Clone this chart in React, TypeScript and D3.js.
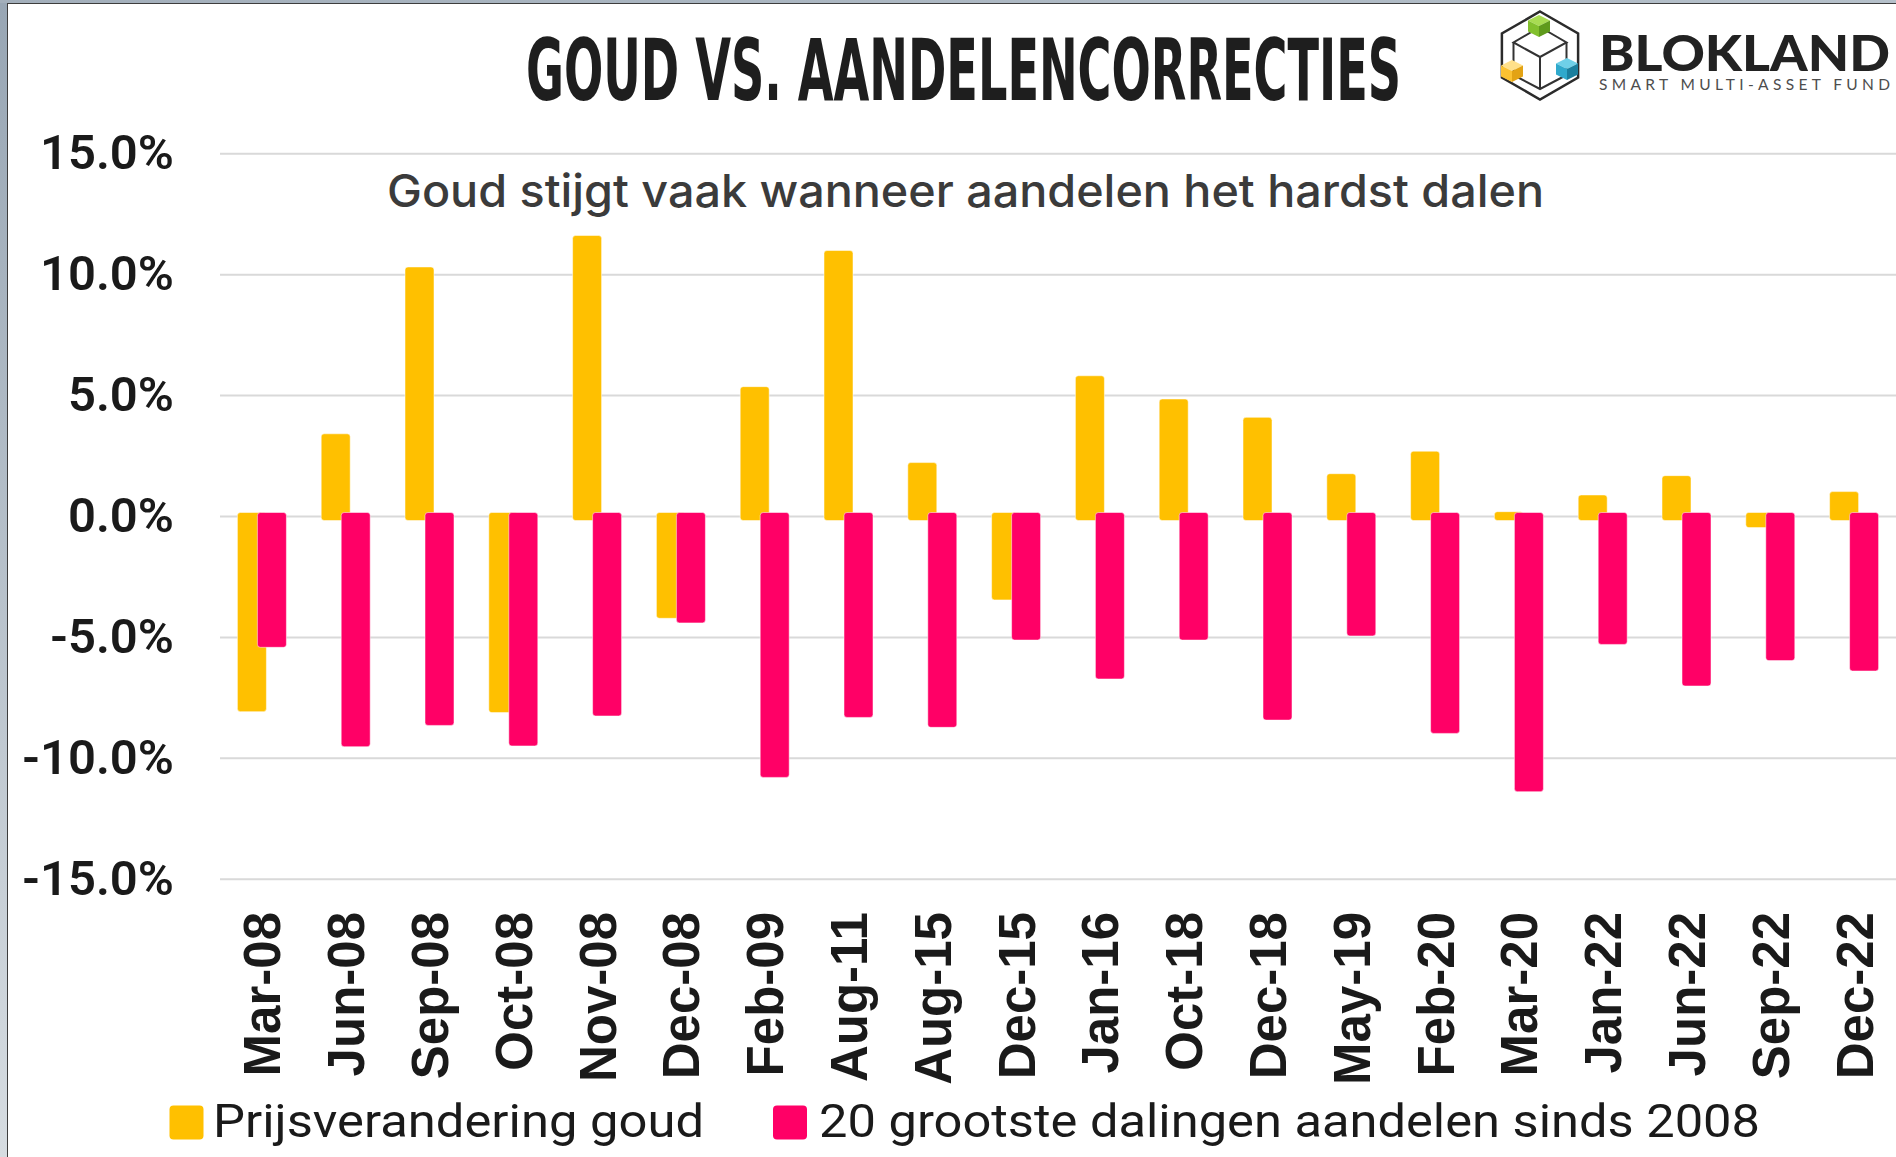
import React from "react";
import * as d3 from "d3";

const categories = ["Mar-08","Jun-08","Sep-08","Oct-08","Nov-08","Dec-08","Feb-09","Aug-11","Aug-15","Dec-15","Jan-16","Oct-18","Dec-18","May-19","Feb-20","Mar-20","Jan-22","Jun-22","Sep-22","Dec-22"];
const goldChange = [-8.07, 3.42, 10.32, -8.11, 11.62, -4.21, 5.37, 11.0, 2.23, -3.45, 5.82, 4.86, 4.1, 1.77, 2.7, 0.2, 0.89, 1.69, -0.46, 1.03];
const equityDrop = [-5.41, -9.52, -8.64, -9.49, -8.25, -4.4, -10.79, -8.31, -8.72, -5.11, -6.72, -5.11, -8.42, -4.94, -8.97, -11.38, -5.29, -7.01, -5.96, -6.39];
const yTicks = [15, 10, 5, 0, -5, -10, -15];
const seriesNames = ["Prijsverandering goud", "20 grootste dalingen aandelen sinds 2008"];
const seriesColors = ["#FFC000", "#FF0066"];
const title = "GOUD VS. AANDELENCORRECTIES";
const subtitle = "Goud stijgt vaak wanneer aandelen het hardst dalen";

const W = 1896;
const H = 1157;

function roundedRect(x: number, y0: number, y1: number, w: number, r: number) {
  const top = Math.min(y0, y1);
  const h = Math.abs(y1 - y0);
  const rr = Math.min(r, h / 2, w / 2);
  const p = d3.path();
  p.moveTo(x + rr, top);
  p.lineTo(x + w - rr, top);
  p.arcTo(x + w, top, x + w, top + rr, rr);
  p.lineTo(x + w, top + h - rr);
  p.arcTo(x + w, top + h, x + w - rr, top + h, rr);
  p.lineTo(x + rr, top + h);
  p.arcTo(x, top + h, x, top + h - rr, rr);
  p.lineTo(x, top + rr);
  p.arcTo(x, top, x + rr, top, rr);
  p.closePath();
  return p.toString();
}

function Cube({ cx, cy, w, colors }: { cx: number; cy: number; w: number; colors: string[] }) {
  const h = w;
  const T = [cx, cy - w];
  const L = [cx - w, cy - w / 2];
  const F = [cx, cy];
  const R = [cx + w, cy - w / 2];
  const pts = (a: number[][]) => a.map((p) => p.join(",")).join(" ");
  return (
    <g>
      <polygon points={pts([T, R, F, L])} fill={colors[0]} />
      <polygon points={pts([L, F, [F[0], F[1] + h], [L[0], L[1] + h]])} fill={colors[1]} />
      <polygon points={pts([F, R, [R[0], R[1] + h], [F[0], F[1] + h]])} fill={colors[2]} />
    </g>
  );
}

function Logo() {
  const cx = 1540, cy = 55.5, r = 44;
  const hex = d3.range(6).map((i) => {
    const a = (-90 + 60 * i) * Math.PI / 180;
    return [cx + r * Math.cos(a), cy + r * Math.sin(a)];
  });
  const line = d3.line();
  return (
    <g>
      <path d={line(hex as [number, number][]) + "Z"} fill="none" stroke="#2b2b2b" strokeWidth={2.5} />
      <g stroke="#333" strokeWidth={2} fill="none">
        <polygon points="1540,27 1566.5,42.5 1540,57 1513.5,42.5" />
        <line x1={1513.5} y1={42.5} x2={1513.5} y2={75} />
        <line x1={1540} y1={57} x2={1540} y2={89} />
        <line x1={1566.5} y1={42.5} x2={1566.5} y2={75} />
        <polyline points="1513.5,75 1540,89 1566.5,75" />
      </g>
      <Cube cx={1539} cy={26} w={11} colors={["#a8dc52", "#82c02d", "#5f9a1c"]} />
      <Cube cx={1512} cy={71} w={11} colors={["#ffe08a", "#fbc232", "#e3a314"]} />
      <Cube cx={1567} cy={69} w={11} colors={["#6fd0e8", "#2fa9cc", "#1a7f9e"]} />
      <text x={1599} y={70.5} fontFamily="Lato, 'Open Sans', sans-serif" fontWeight={900} fontSize={50} fill="#222" textLength={291} lengthAdjust="spacingAndGlyphs">BLOKLAND</text>
      <text x={1599} y={89.5} fontFamily="Lato, 'Open Sans', sans-serif" fontWeight={400} fontSize={15.5} fill="#4d4d4d" textLength={291} lengthAdjust="spacing">SMART MULTI-ASSET FUND</text>
    </g>
  );
}

export default function App() {
  const x = d3.scaleBand<string>().domain(categories).range([220, 1896]).padding(0);
  const y = d3.scaleLinear().domain([-15, 15]).range([879.2, 153.8]);
  const barW = 29;
  const y0 = y(0);
  const ext = 4;

  const barPath = (c: string, v: number, offset: number) => {
    const xc = (x(c) as number) + x.bandwidth() / 2;
    const bx = xc + offset;
    if (v >= 0) return roundedRect(bx, y(v), y0 + ext, barW, 3);
    return roundedRect(bx, y0 - ext, y(v), barW, 3);
  };

  return (
    <div style={{ position: "absolute", left: 0, top: 0 }}>
      <svg width={W} height={H} xmlns="http://www.w3.org/2000/svg" style={{ display: "block", background: "#fff" }}>
        <defs>
          <linearGradient id="frameL" x1="0" y1="0" x2="0" y2="1">
            <stop offset="0" stopColor="#98a6b4" />
            <stop offset="1" stopColor="#d6dce1" />
          </linearGradient>
          <linearGradient id="frameT" x1="0" y1="0" x2="1" y2="0">
            <stop offset="0" stopColor="#a3afbb" />
            <stop offset="1" stopColor="#b5c0ca" />
          </linearGradient>
        </defs>
        <rect x={0} y={0} width={W} height={H} fill="#fff" />

        {/* gridlines */}
        <g>
          {yTicks.map((t) => (
            <line key={t} x1={220} x2={W} y1={y(t)} y2={y(t)} stroke="#d9d9d9" strokeWidth={2} />
          ))}
        </g>

        {/* y labels */}
        <g fontFamily="Roboto, 'Liberation Sans', sans-serif" fontWeight={600} fontSize={49} fill="#1a1a1a" textAnchor="end">
          {yTicks.map((t) => (
            <text key={t} x={174} y={y(t) + 15.5}>{t.toFixed(1) + "%"}</text>
          ))}
        </g>

        {/* title */}
        <text x={526} y={100} fontFamily="'Liberation Sans Narrow', 'DejaVu Sans Condensed', sans-serif" fontWeight={700} fontSize={86} fill="#1e1e1e" textLength={875} lengthAdjust="spacingAndGlyphs">{title}</text>

        {/* subtitle */}
        <text x={387} y={206.5} fontFamily="Inter, Roboto, sans-serif" fontWeight={500} fontSize={45} fill="#3b3b3b" textLength={1157} lengthAdjust="spacingAndGlyphs">{subtitle}</text>

        {/* bars */}
        <g>
          {categories.map((c, i) => (
            <path key={"g" + c} d={barPath(c, goldChange[i], -24.5)} fill={seriesColors[0]} stroke="#fff" strokeOpacity={0.5} strokeWidth={1} />
          ))}
          {categories.map((c, i) => (
            <path key={"p" + c} d={barPath(c, equityDrop[i], -4.5)} fill={seriesColors[1]} stroke="#fff" strokeOpacity={0.5} strokeWidth={1} />
          ))}
        </g>

        {/* x labels */}
        <g fontFamily="'Liberation Sans', Arial, sans-serif" fontWeight={700} fontSize={51} fill="#1a1a1a" textAnchor="end">
          {categories.map((c) => {
            const xc = (x(c) as number) + x.bandwidth() / 2 + 18.5;
            return (
              <text key={c} transform={`translate(${xc},912) rotate(-90)`}>{c}</text>
            );
          })}
        </g>

        {/* legend */}
        <g>
          <rect x={169.5} y={1105.5} width={34} height={34} rx={4} fill={seriesColors[0]} />
          <text x={213} y={1137} fontFamily="Roboto, Inter, sans-serif" fontWeight={400} fontSize={46} fill="#1a1a1a" textLength={491} lengthAdjust="spacingAndGlyphs">{seriesNames[0]}</text>
          <rect x={773} y={1105.5} width={34} height={34} rx={4} fill={seriesColors[1]} />
          <text x={819} y={1137} fontFamily="Roboto, Inter, sans-serif" fontWeight={400} fontSize={46} fill="#1a1a1a" textLength={941} lengthAdjust="spacingAndGlyphs">{seriesNames[1]}</text>
        </g>

        <Logo />

        {/* window frame */}
        <rect x={0} y={0} width={7} height={H} fill="url(#frameL)" />
        <line x1={7.5} y1={3} x2={7.5} y2={H} stroke="#3d3d3d" strokeWidth={1} />
        <rect x={0} y={0} width={W} height={3} fill="url(#frameT)" />
        <line x1={7} y1={3.5} x2={W} y2={3.5} stroke="#3d3d3d" strokeWidth={1} />
      </svg>
    </div>
  );
}
